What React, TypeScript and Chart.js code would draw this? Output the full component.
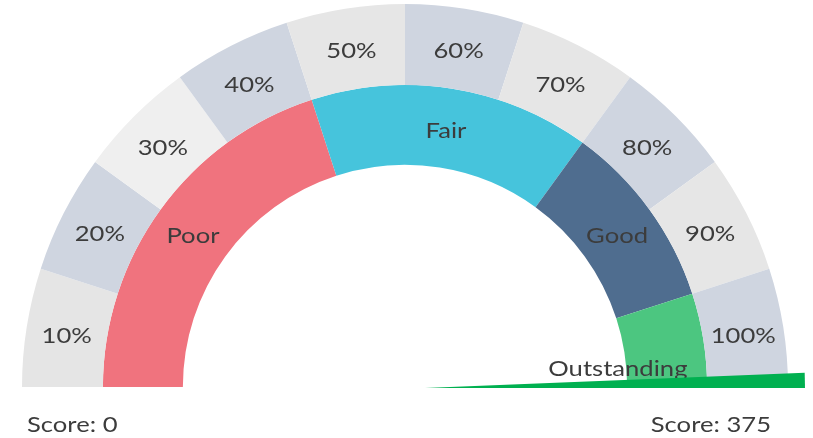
import React, { useEffect, useRef } from "react";
import { Chart, registerables } from "chart.js";

Chart.register(...registerables);

// ---- data ----
const outerLabels = ["10%", "20%", "30%", "40%", "50%", "60%", "70%", "80%", "90%", "100%"];
const outerValues = [10, 10, 10, 10, 10, 10, 10, 10, 10, 10];
const bandLabels = ["Poor", "Fair", "Good", "Outstanding"];
const bandValues = [40, 30, 20, 10];
const scoreMin = 0;
const scoreMax = 375;
const scoreValue = 375;

// ---- styles ----
const outerColors = ["#E5E5E5", "#CFD5E0", "#EFEFEF", "#CFD5E0", "#E6E6E6", "#CFD5E0", "#E6E6E6", "#CFD5E0", "#E6E6E6", "#CFD5E0"];
const bandColors = ["#F0737E", "#46C4DC", "#4F6D8F", "#4CC680"];
const textColor = "#3C3C3C";
const needleColor = "#00B050";
const FONT = "Lato";
const FONT_SIZE = 21;
const SCALE_X = 1.22;
const LABEL_DY = 3;

function drawScaledText(ctx: CanvasRenderingContext2D, text: string, x: number, y: number, align: CanvasTextAlign) {
  ctx.save();
  ctx.translate(x, y);
  ctx.scale(SCALE_X, 1);
  ctx.font = `${FONT_SIZE}px ${FONT}`;
  ctx.fillStyle = textColor;
  ctx.textAlign = align;
  ctx.textBaseline = "middle";
  ctx.fillText(text, 0, 0);
  ctx.restore();
}

const labelOffsets: Record<string, [number, number]> = { Outstanding: [-46, 20] };

const gaugePlugin = {
  id: "gaugeExtras",
  afterDatasetsDraw(chart: any) {
    const ctx: CanvasRenderingContext2D = chart.ctx;
    const outerMeta = chart.getDatasetMeta(0);
    const innerMeta = chart.getDatasetMeta(1);
    const first = outerMeta.data[0];
    const cx = first.x;
    const cy = first.y;
    const R = first.outerRadius;

    // labels on segments
    outerMeta.data.forEach((arc: any, i: number) => {
      const p = arc.getCenterPoint();
      drawScaledText(ctx, outerLabels[i], p.x, p.y + LABEL_DY, "center");
    });
    innerMeta.data.forEach((arc: any, i: number) => {
      const p = arc.getCenterPoint();
      const off = labelOffsets[bandLabels[i]] || [0, 0];
      drawScaledText(ctx, bandLabels[i], p.x + off[0], p.y + LABEL_DY + off[1], "center");
    });

    // needle
    const frac = (scoreValue - scoreMin) / (scoreMax - scoreMin);
    const a = Math.PI + frac * Math.PI;
    const w = (2.3 * Math.PI) / 180;
    const pivotOff = 20;
    const len = R + 17 - pivotOff;
    const px = cx + pivotOff * Math.cos(a);
    const py = cy + 1 + pivotOff * Math.sin(a);
    ctx.save();
    ctx.beginPath();
    ctx.moveTo(px, py);
    ctx.lineTo(px + len * Math.cos(a), py + len * Math.sin(a));
    ctx.lineTo(px + len * Math.cos(a - w), py + len * Math.sin(a - w));
    ctx.closePath();
    ctx.fillStyle = needleColor;
    ctx.fill();
    ctx.restore();

    // score labels
    const ty = cy + 38;
    drawScaledText(ctx, `Score: ${scoreMin}`, cx - R + 5, ty, "left");
    ctx.save();
    ctx.font = `${FONT_SIZE}px ${FONT}`;
    const wRight = ctx.measureText(`Score: ${scoreValue}`).width * SCALE_X;
    ctx.restore();
    drawScaledText(ctx, `Score: ${scoreValue}`, cx + R - 17 - wRight, ty, "left");
  },
};

export default function App() {
  const ref = useRef<HTMLCanvasElement | null>(null);
  useEffect(() => {
    if (!ref.current) return;
    const chart = new Chart(ref.current, {
      type: "doughnut",
      data: {
        labels: outerLabels,
        datasets: [
          { data: outerValues, backgroundColor: outerColors, borderWidth: 0, weight: 81 } as any,
          { data: bandValues, backgroundColor: bandColors, borderWidth: 0, weight: 80 } as any,
        ],
      },
      options: {
        animation: false,
        responsive: true,
        maintainAspectRatio: false,
        rotation: -90,
        circumference: 180,
        cutout: "58%",
        events: [],
        layout: { padding: { left: 20, right: 23, top: 4, bottom: 51 } },
        plugins: { legend: { display: false }, tooltip: { enabled: false } },
      },
      plugins: [gaugePlugin],
    });
    return () => chart.destroy();
  }, []);
  return (
    <div style={{ position: "fixed", left: 0, top: 0, width: 813, height: 438, background: "#fff" }}>
      <canvas ref={ref} />
    </div>
  );
}
